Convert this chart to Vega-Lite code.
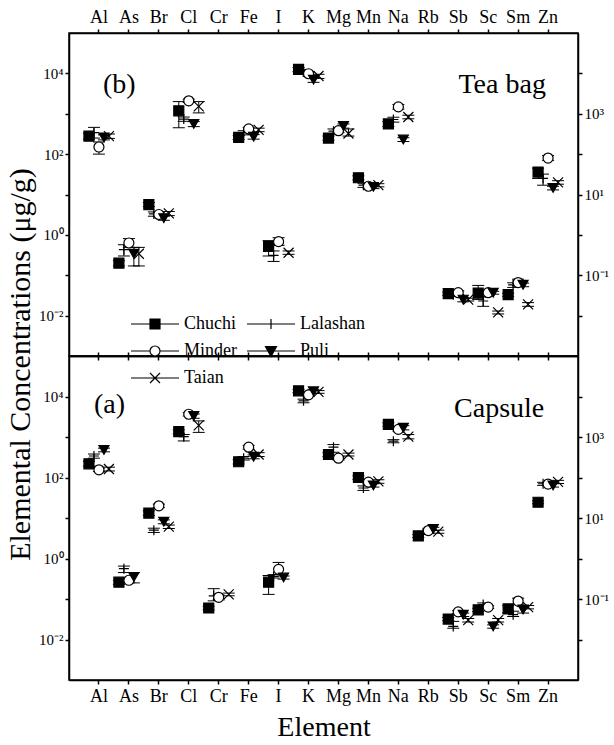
{
  "$schema": "https://vega.github.io/schema/vega-lite/v6.json",
  "padding": {"left": 4, "top": 7, "right": 0, "bottom": 0},
  "spacing": 0,
  "bounds": "flush",
  "config": {
    "font": "Liberation Serif",
    "view": {"stroke": "black", "strokeWidth": 1.5},
    "axis": {"labelFont": "Liberation Serif", "titleFont": "Liberation Serif", "labelColor": "black", "titleColor": "black", "domainColor": "black", "tickColor": "black", "grid": false, "titleFontWeight": "normal", "domainWidth": 1.5, "tickWidth": 1.5, "labelFontSize": 18},
    "legend": {"labelFont": "Liberation Serif", "labelColor": "black"}
  },
  "datasets": {
    "tea": [
      {"el":"Al","s":"Chuchi","v":280,"lo":235,"hi":330},
      {"el":"Al","s":"Lalashan","v":340,"lo":250,"hi":460},
      {"el":"Al","s":"Minder","v":150,"lo":100,"hi":200},
      {"el":"Al","s":"Puli","v":260,"lo":225,"hi":300},
      {"el":"Al","s":"Taian","v":280,"lo":245,"hi":315},
      {"el":"As","s":"Chuchi","v":0.20,"lo":0.17,"hi":0.23},
      {"el":"As","s":"Lalashan","v":0.43,"lo":0.30,"hi":0.57},
      {"el":"As","s":"Minder","v":0.63,"lo":0.49,"hi":0.81},
      {"el":"As","s":"Puli","v":0.34,"lo":0.17,"hi":0.49},
      {"el":"As","s":"Taian","v":0.34,"lo":0.17,"hi":0.49},
      {"el":"Br","s":"Chuchi","v":5.6,"lo":5.0,"hi":6.3},
      {"el":"Br","s":"Lalashan","v":3.3,"lo":2.9,"hi":3.7},
      {"el":"Br","s":"Minder","v":3.2,"lo":2.9,"hi":3.6},
      {"el":"Br","s":"Puli","v":2.6,"lo":2.3,"hi":2.9},
      {"el":"Br","s":"Taian","v":3.4,"lo":3.0,"hi":3.8},
      {"el":"Cl","s":"Chuchi","v":1180,"lo":450,"hi":2000},
      {"el":"Cl","s":"Lalashan","v":740,"lo":650,"hi":830},
      {"el":"Cl","s":"Minder","v":2090,"lo":1900,"hi":2300},
      {"el":"Cl","s":"Puli","v":560,"lo":480,"hi":640},
      {"el":"Cl","s":"Taian","v":1520,"lo":1050,"hi":2000},
      {"el":"Fe","s":"Chuchi","v":260,"lo":230,"hi":290},
      {"el":"Fe","s":"Lalashan","v":340,"lo":300,"hi":380},
      {"el":"Fe","s":"Minder","v":420,"lo":380,"hi":460},
      {"el":"Fe","s":"Puli","v":270,"lo":235,"hi":305},
      {"el":"Fe","s":"Taian","v":400,"lo":360,"hi":440},
      {"el":"I","s":"Chuchi","v":0.52,"lo":0.30,"hi":0.72},
      {"el":"I","s":"Lalashan","v":0.31,"lo":0.22,"hi":0.40},
      {"el":"I","s":"Minder","v":0.68,"lo":0.55,"hi":0.85},
      {"el":"I","s":"Taian","v":0.36,"lo":0.33,"hi":0.40},
      {"el":"K","s":"Chuchi","v":12500,"lo":11000,"hi":14000},
      {"el":"K","s":"Lalashan","v":11000,"lo":9500,"hi":12500},
      {"el":"K","s":"Minder","v":9800,"lo":8500,"hi":11000},
      {"el":"K","s":"Puli","v":7000,"lo":6000,"hi":8000},
      {"el":"K","s":"Taian","v":8600,"lo":7500,"hi":9500},
      {"el":"Mg","s":"Chuchi","v":250,"lo":220,"hi":280},
      {"el":"Mg","s":"Lalashan","v":370,"lo":320,"hi":420},
      {"el":"Mg","s":"Minder","v":380,"lo":340,"hi":420},
      {"el":"Mg","s":"Puli","v":500,"lo":440,"hi":560},
      {"el":"Mg","s":"Taian","v":325,"lo":280,"hi":420},
      {"el":"Mn","s":"Chuchi","v":26,"lo":23,"hi":29},
      {"el":"Mn","s":"Lalashan","v":17,"lo":15,"hi":19},
      {"el":"Mn","s":"Minder","v":16,"lo":14.5,"hi":17.5},
      {"el":"Mn","s":"Puli","v":15.5,"lo":14,"hi":17},
      {"el":"Mn","s":"Taian","v":17,"lo":15.5,"hi":18.5},
      {"el":"Na","s":"Chuchi","v":560,"lo":480,"hi":640},
      {"el":"Na","s":"Lalashan","v":720,"lo":620,"hi":820},
      {"el":"Na","s":"Minder","v":1480,"lo":1300,"hi":1700},
      {"el":"Na","s":"Puli","v":230,"lo":205,"hi":255},
      {"el":"Na","s":"Taian","v":830,"lo":750,"hi":920},
      {"el":"Sb","s":"Chuchi","v":0.035,"lo":0.032,"hi":0.038},
      {"el":"Sb","s":"Lalashan","v":0.033,"lo":0.030,"hi":0.036},
      {"el":"Sb","s":"Minder","v":0.037,"lo":0.033,"hi":0.041},
      {"el":"Sb","s":"Puli","v":0.025,"lo":0.022,"hi":0.028},
      {"el":"Sb","s":"Taian","v":0.025,"lo":0.023,"hi":0.027},
      {"el":"Sc","s":"Chuchi","v":0.036,"lo":0.025,"hi":0.056},
      {"el":"Sc","s":"Lalashan","v":0.023,"lo":0.017,"hi":0.029},
      {"el":"Sc","s":"Minder","v":0.037,"lo":0.034,"hi":0.040},
      {"el":"Sc","s":"Puli","v":0.037,"lo":0.034,"hi":0.040},
      {"el":"Sc","s":"Taian","v":0.012,"lo":0.011,"hi":0.013},
      {"el":"Sm","s":"Chuchi","v":0.033,"lo":0.030,"hi":0.036},
      {"el":"Sm","s":"Lalashan","v":0.058,"lo":0.050,"hi":0.065},
      {"el":"Sm","s":"Minder","v":0.066,"lo":0.055,"hi":0.080},
      {"el":"Sm","s":"Puli","v":0.058,"lo":0.052,"hi":0.064},
      {"el":"Sm","s":"Taian","v":0.019,"lo":0.017,"hi":0.021},
      {"el":"Zn","s":"Chuchi","v":36,"lo":25,"hi":45},
      {"el":"Zn","s":"Lalashan","v":25,"lo":17,"hi":32},
      {"el":"Zn","s":"Minder","v":80,"lo":70,"hi":92},
      {"el":"Zn","s":"Puli","v":14.5,"lo":13,"hi":16},
      {"el":"Zn","s":"Taian","v":20,"lo":18,"hi":22}
    ],
    "cap": [
      {"el":"Al","s":"Chuchi","v":218,"lo":190,"hi":250},
      {"el":"Al","s":"Lalashan","v":340,"lo":300,"hi":380},
      {"el":"Al","s":"Minder","v":155,"lo":140,"hi":170},
      {"el":"Al","s":"Puli","v":480,"lo":430,"hi":530},
      {"el":"Al","s":"Taian","v":162,"lo":145,"hi":180},
      {"el":"As","s":"Chuchi","v":0.26,"lo":0.23,"hi":0.29},
      {"el":"As","s":"Lalashan","v":0.56,"lo":0.45,"hi":0.65},
      {"el":"As","s":"Minder","v":0.29,"lo":0.25,"hi":0.33},
      {"el":"As","s":"Puli","v":0.35,"lo":0.25,"hi":0.45},
      {"el":"Br","s":"Chuchi","v":13.2,"lo":11.5,"hi":15},
      {"el":"Br","s":"Lalashan","v":5.0,"lo":4.4,"hi":5.6},
      {"el":"Br","s":"Minder","v":20,"lo":18,"hi":22},
      {"el":"Br","s":"Puli","v":8.1,"lo":7.2,"hi":9},
      {"el":"Br","s":"Taian","v":6.1,"lo":5.5,"hi":6.7},
      {"el":"Cl","s":"Chuchi","v":1350,"lo":1200,"hi":1500},
      {"el":"Cl","s":"Lalashan","v":1020,"lo":800,"hi":1150},
      {"el":"Cl","s":"Minder","v":3650,"lo":3300,"hi":4000},
      {"el":"Cl","s":"Puli","v":3300,"lo":2900,"hi":3700},
      {"el":"Cl","s":"Taian","v":1940,"lo":1300,"hi":2500},
      {"el":"Cr","s":"Chuchi","v":0.060,"lo":0.054,"hi":0.066},
      {"el":"Cr","s":"Lalashan","v":0.12,"lo":0.09,"hi":0.18},
      {"el":"Cr","s":"Minder","v":0.11,"lo":0.095,"hi":0.125},
      {"el":"Cr","s":"Taian","v":0.13,"lo":0.12,"hi":0.14},
      {"el":"Fe","s":"Chuchi","v":245,"lo":215,"hi":275},
      {"el":"Fe","s":"Lalashan","v":300,"lo":270,"hi":330},
      {"el":"Fe","s":"Minder","v":560,"lo":500,"hi":620},
      {"el":"Fe","s":"Puli","v":325,"lo":290,"hi":360},
      {"el":"Fe","s":"Taian","v":370,"lo":330,"hi":410},
      {"el":"I","s":"Chuchi","v":0.26,"lo":0.13,"hi":0.38},
      {"el":"I","s":"Lalashan","v":0.36,"lo":0.33,"hi":0.40},
      {"el":"I","s":"Minder","v":0.54,"lo":0.40,"hi":0.80},
      {"el":"I","s":"Puli","v":0.34,"lo":0.31,"hi":0.37},
      {"el":"K","s":"Chuchi","v":13800,"lo":12500,"hi":15000},
      {"el":"K","s":"Lalashan","v":7800,"lo":7000,"hi":8600},
      {"el":"K","s":"Minder","v":11000,"lo":10000,"hi":12000},
      {"el":"K","s":"Puli","v":13500,"lo":12000,"hi":15000},
      {"el":"K","s":"Taian","v":13000,"lo":12000,"hi":14000},
      {"el":"Mg","s":"Chuchi","v":370,"lo":330,"hi":410},
      {"el":"Mg","s":"Lalashan","v":560,"lo":420,"hi":650},
      {"el":"Mg","s":"Minder","v":300,"lo":270,"hi":330},
      {"el":"Mg","s":"Taian","v":370,"lo":340,"hi":400},
      {"el":"Mn","s":"Chuchi","v":100,"lo":90,"hi":110},
      {"el":"Mn","s":"Lalashan","v":55,"lo":48,"hi":62},
      {"el":"Mn","s":"Minder","v":77,"lo":70,"hi":84},
      {"el":"Mn","s":"Puli","v":64,"lo":58,"hi":70},
      {"el":"Mn","s":"Taian","v":80,"lo":72,"hi":88},
      {"el":"Na","s":"Chuchi","v":2040,"lo":1850,"hi":2250},
      {"el":"Na","s":"Lalashan","v":790,"lo":720,"hi":860},
      {"el":"Na","s":"Minder","v":1540,"lo":1400,"hi":1700},
      {"el":"Na","s":"Puli","v":1700,"lo":1500,"hi":1900},
      {"el":"Na","s":"Taian","v":1020,"lo":900,"hi":1150},
      {"el":"Rb","s":"Chuchi","v":3.6,"lo":3.3,"hi":3.9},
      {"el":"Rb","s":"Lalashan","v":4.3,"lo":3.9,"hi":4.7},
      {"el":"Rb","s":"Minder","v":4.9,"lo":4.5,"hi":5.3},
      {"el":"Rb","s":"Puli","v":5.4,"lo":4.9,"hi":5.9},
      {"el":"Rb","s":"Taian","v":4.6,"lo":4.2,"hi":5.0},
      {"el":"Sb","s":"Chuchi","v":0.032,"lo":0.029,"hi":0.035},
      {"el":"Sb","s":"Lalashan","v":0.021,"lo":0.019,"hi":0.028},
      {"el":"Sb","s":"Minder","v":0.048,"lo":0.044,"hi":0.052},
      {"el":"Sb","s":"Puli","v":0.041,"lo":0.037,"hi":0.045},
      {"el":"Sb","s":"Taian","v":0.030,"lo":0.027,"hi":0.033},
      {"el":"Sc","s":"Chuchi","v":0.054,"lo":0.049,"hi":0.059},
      {"el":"Sc","s":"Lalashan","v":0.073,"lo":0.066,"hi":0.080},
      {"el":"Sc","s":"Minder","v":0.063,"lo":0.058,"hi":0.068},
      {"el":"Sc","s":"Puli","v":0.021,"lo":0.019,"hi":0.023},
      {"el":"Sc","s":"Taian","v":0.030,"lo":0.027,"hi":0.033},
      {"el":"Sm","s":"Chuchi","v":0.057,"lo":0.045,"hi":0.068},
      {"el":"Sm","s":"Lalashan","v":0.041,"lo":0.037,"hi":0.050},
      {"el":"Sm","s":"Minder","v":0.089,"lo":0.075,"hi":0.105},
      {"el":"Sm","s":"Puli","v":0.055,"lo":0.045,"hi":0.065},
      {"el":"Sm","s":"Taian","v":0.063,"lo":0.057,"hi":0.069},
      {"el":"Zn","s":"Chuchi","v":24.5,"lo":22.5,"hi":26.5},
      {"el":"Zn","s":"Lalashan","v":70,"lo":64,"hi":76},
      {"el":"Zn","s":"Minder","v":69,"lo":63,"hi":75},
      {"el":"Zn","s":"Puli","v":64,"lo":58,"hi":70},
      {"el":"Zn","s":"Taian","v":78,"lo":71,"hi":85}
    ]
  },
  "vconcat": [
    {
      "width": 509, "height": 323,
      "data": {"name": "tea"},
      "resolve": {"axis": {"x": "independent", "y": "independent"}},
      "layer": [
        {"mark": {"type": "rule", "color": "black", "strokeWidth": 1},
         "encoding": {
           "x": {"field": "el", "type": "nominal", "scale": {"type": "band", "domain": ["Al","As","Br","Cl","Cr","Fe","I","K","Mg","Mn","Na","Rb","Sb","Sc","Sm","Zn"], "paddingInner": 0.1667, "paddingOuter": 0.5833}, "axis": {"orient": "top", "title": null, "tickSize": 4, "labelPadding": 3, "labelAngle": 0}},
           "xOffset": {"field": "s", "type": "nominal", "scale": {"domain": ["Chuchi","Lalashan","Minder","Puli","Taian"]}},
           "y": {"field": "lo", "type": "quantitative", "scale": {"type": "log", "domain": [0.005, 100000]}, "axis": {"orient": "left", "values": [0.01,0.1,1,10,100,1000,10000], "labelExpr": "datum.value == 0.01 ? '10⁻²' : datum.value == 1 ? '10⁰' : datum.value == 100 ? '10²' : datum.value == 10000 ? '10⁴' : ''", "labelFontSize": 15, "tickSize": 4, "labelPadding": 2, "title": "Elemental Concentrations (μg/g)", "titleFontSize": 30, "titleY": 331, "titlePadding": 3}},
           "y2": {"field": "hi"}
         }},
        {"mark": {"type": "tick", "color": "black", "size": 12, "thickness": 1, "opacity": 1},
         "encoding": {
           "x": {"field": "el", "type": "nominal", "scale": {"type": "band"}, "axis": null},
           "xOffset": {"field": "s", "type": "nominal"},
           "y": {"field": "lo", "type": "quantitative", "scale": {"type": "log"}, "axis": null}
         }},
        {"mark": {"type": "tick", "color": "black", "size": 12, "thickness": 1, "opacity": 1},
         "encoding": {
           "x": {"field": "el", "type": "nominal", "scale": {"type": "band"}, "axis": null},
           "xOffset": {"field": "s", "type": "nominal"},
           "y": {"field": "hi", "type": "quantitative", "scale": {"type": "log"}, "axis": null}
         }},
        {"mark": {"type": "point", "size": 100, "stroke": "black", "strokeWidth": 1.2, "opacity": 1},
         "encoding": {
           "x": {"field": "el", "type": "nominal", "scale": {"type": "band"}, "axis": {"orient": "bottom", "labels": false, "title": null, "tickSize": 4}},
           "xOffset": {"field": "s", "type": "nominal"},
           "y": {"field": "v", "type": "quantitative", "scale": {"type": "log"}, "axis": {"orient": "right", "values": [0.01,0.1,1,10,100,1000,10000], "labelExpr": "datum.value == 0.1 ? '10⁻¹' : datum.value == 10 ? '10¹' : datum.value == 1000 ? '10³' : ''", "labelFontSize": 15, "tickSize": 4, "labelPadding": 2, "title": null}},
           "shape": {"field": "s", "type": "nominal", "scale": {"domain": ["Chuchi","Lalashan","Minder","Puli","Taian"], "range": ["square", "M-1,0H1M0,-1V1", "circle", "triangle-down", "M-1,-1L1,1M-1,1L1,-1"]}, "legend": null},
           "fill": {"field": "s", "type": "nominal", "scale": {"domain": ["Chuchi","Minder","Taian","Lalashan","Puli"], "range": ["black", "white", "transparent", "transparent", "black"]},
             "legend": {"orient": "none", "legendX": 77, "legendY": 282, "title": null, "columns": 2, "columnPadding": 7, "rowPadding": 9, "labelFontSize": 18, "labelOffset": 20, "symbolSize": 100, "symbolStrokeWidth": 1.2, "symbolStrokeColor": "black",
               "encoding": {"symbols": {"stroke": {"value": "black"}, "strokeWidth": {"value": 1.2}, "shape": {"value": {"expr": "datum.value == 'Chuchi' ? 'M-4.8,0H4.8M-1,-1H1V1H-1Z' : datum.value == 'Lalashan' ? 'M-4.8,0H4.8M0,-1V1' : datum.value == 'Minder' ? 'M-4.8,0H-1M1,0H4.8M1,0A1,1,0,1,1,-1,0A1,1,0,1,1,1,0Z' : datum.value == 'Puli' ? 'M-4.8,0H4.8M-1.1,-0.9H1.1L0,1.1Z' : 'M-4.8,0H4.8M-1,-1L1,1M-1,1L1,-1'"}}}}}}
         }},
        {"data": {"values": [{"t": "(b)"}]},
         "mark": {"type": "text", "align": "left", "baseline": "middle", "fontSize": 28, "font": "Liberation Serif", "color": "black", "dx": 4},
         "encoding": {"x": {"datum": "Al", "type": "nominal", "axis": null}, "y": {"datum": 5100, "type": "quantitative", "axis": null}, "text": {"field": "t"}}},
        {"data": {"values": [{"t": "Tea bag"}]},
         "mark": {"type": "text", "align": "center", "baseline": "middle", "fontSize": 28, "font": "Liberation Serif", "color": "black", "dx": 14},
         "encoding": {"x": {"datum": "Sc", "type": "nominal", "axis": null}, "y": {"datum": 5300, "type": "quantitative", "axis": null}, "text": {"field": "t"}}}
      ]
    },
    {
      "width": 509, "height": 324,
      "data": {"name": "cap"},
      "resolve": {"axis": {"x": "independent", "y": "independent"}},
      "layer": [
        {"mark": {"type": "rule", "color": "black", "strokeWidth": 1},
         "encoding": {
           "x": {"field": "el", "type": "nominal", "scale": {"type": "band", "domain": ["Al","As","Br","Cl","Cr","Fe","I","K","Mg","Mn","Na","Rb","Sb","Sc","Sm","Zn"], "paddingInner": 0.1667, "paddingOuter": 0.5833}, "axis": {"orient": "bottom", "title": "Element", "titleFontSize": 28, "titlePadding": 8, "tickSize": 4, "labelPadding": 3, "labelAngle": 0}},
           "xOffset": {"field": "s", "type": "nominal", "scale": {"domain": ["Chuchi","Lalashan","Minder","Puli","Taian"]}},
           "y": {"field": "lo", "type": "quantitative", "scale": {"type": "log", "domain": [0.001, 100000]}, "axis": {"orient": "left", "values": [0.01,0.1,1,10,100,1000,10000], "labelExpr": "datum.value == 0.01 ? '10⁻²' : datum.value == 1 ? '10⁰' : datum.value == 100 ? '10²' : datum.value == 10000 ? '10⁴' : ''", "labelFontSize": 15, "tickSize": 4, "labelPadding": 2, "title": null}},
           "y2": {"field": "hi"}
         }},
        {"mark": {"type": "tick", "color": "black", "size": 12, "thickness": 1, "opacity": 1},
         "encoding": {
           "x": {"field": "el", "type": "nominal", "scale": {"type": "band"}, "axis": null},
           "xOffset": {"field": "s", "type": "nominal"},
           "y": {"field": "lo", "type": "quantitative", "scale": {"type": "log"}, "axis": null}
         }},
        {"mark": {"type": "tick", "color": "black", "size": 12, "thickness": 1, "opacity": 1},
         "encoding": {
           "x": {"field": "el", "type": "nominal", "scale": {"type": "band"}, "axis": null},
           "xOffset": {"field": "s", "type": "nominal"},
           "y": {"field": "hi", "type": "quantitative", "scale": {"type": "log"}, "axis": null}
         }},
        {"mark": {"type": "point", "size": 100, "stroke": "black", "strokeWidth": 1.2, "opacity": 1},
         "encoding": {
           "x": {"field": "el", "type": "nominal", "scale": {"type": "band"}, "axis": {"orient": "top", "labels": false, "title": null, "tickSize": 4}},
           "xOffset": {"field": "s", "type": "nominal"},
           "y": {"field": "v", "type": "quantitative", "scale": {"type": "log"}, "axis": {"orient": "right", "values": [0.01,0.1,1,10,100,1000,10000], "labelExpr": "datum.value == 0.1 ? '10⁻¹' : datum.value == 10 ? '10¹' : datum.value == 1000 ? '10³' : ''", "labelFontSize": 15, "tickSize": 4, "labelPadding": 2, "title": null}},
           "shape": {"field": "s", "type": "nominal", "scale": {"domain": ["Chuchi","Lalashan","Minder","Puli","Taian"], "range": ["square", "M-1,0H1M0,-1V1", "circle", "triangle-down", "M-1,-1L1,1M-1,1L1,-1"]}, "legend": null},
           "fill": {"field": "s", "type": "nominal", "scale": {"domain": ["Chuchi","Minder","Taian","Lalashan","Puli"], "range": ["black", "white", "transparent", "transparent", "black"]},
             "legend": {"orient": "none", "legendX": 77, "legendY": 282, "title": null, "columns": 2, "columnPadding": 7, "rowPadding": 9, "labelFontSize": 18, "labelOffset": 20, "symbolSize": 100, "symbolStrokeWidth": 1.2, "symbolStrokeColor": "black",
               "encoding": {"symbols": {"stroke": {"value": "black"}, "strokeWidth": {"value": 1.2}, "shape": {"value": {"expr": "datum.value == 'Chuchi' ? 'M-4.8,0H4.8M-1,-1H1V1H-1Z' : datum.value == 'Lalashan' ? 'M-4.8,0H4.8M0,-1V1' : datum.value == 'Minder' ? 'M-4.8,0H-1M1,0H4.8M1,0A1,1,0,1,1,-1,0A1,1,0,1,1,1,0Z' : datum.value == 'Puli' ? 'M-4.8,0H4.8M-1.1,-0.9H1.1L0,1.1Z' : 'M-4.8,0H4.8M-1,-1L1,1M-1,1L1,-1'"}}}}}}
         }},
        {"data": {"values": [{"t": "(a)"}]},
         "mark": {"type": "text", "align": "left", "baseline": "middle", "fontSize": 28, "font": "Liberation Serif", "color": "black", "dx": -5},
         "encoding": {"x": {"datum": "Al", "type": "nominal", "axis": null}, "y": {"datum": 6200, "type": "quantitative", "axis": null}, "text": {"field": "t"}}},
        {"data": {"values": [{"t": "Capsule"}]},
         "mark": {"type": "text", "align": "center", "baseline": "middle", "fontSize": 28, "font": "Liberation Serif", "color": "black", "dx": 11},
         "encoding": {"x": {"datum": "Sc", "type": "nominal", "axis": null}, "y": {"datum": 4900, "type": "quantitative", "axis": null}, "text": {"field": "t"}}}
      ]
    }
  ]
}
